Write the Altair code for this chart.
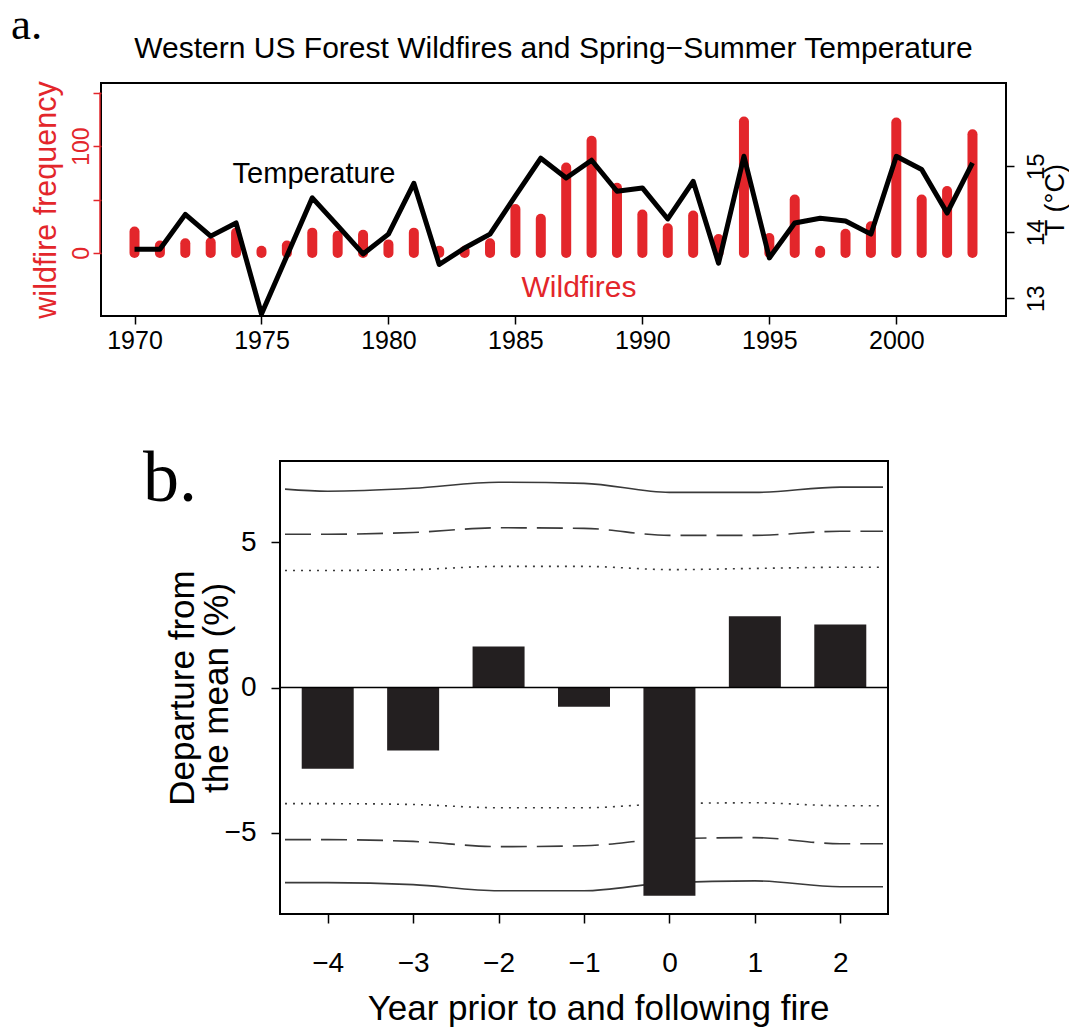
import altair as alt
import pandas as pd

# ---------------- panel a: western US forest wildfires and spring-summer temperature
years = [1970, 1971, 1972, 1973, 1974, 1975, 1976, 1977, 1978, 1979,
         1980, 1981, 1982, 1983, 1984, 1985, 1986, 1987, 1988, 1989,
         1990, 1991, 1992, 1993, 1994, 1995, 1996, 1997, 1998, 1999,
         2000, 2001, 2002, 2003]
fire_counts = [20, 7, 9, 10, 19, 2, 7, 19, 16, 17,
               8, 19, 2, 2, 9, 41, 32, 80, 105, 61,
               36, 23, 35, 13, 123, 14, 50, 2, 18, 25,
               122, 50, 58, 111]
temperature_c = [13.74, 13.74, 14.27, 13.94, 14.14, 12.76, 13.64, 14.52, 14.10, 13.67,
                 13.97, 14.74, 13.51, 13.76, 13.97, 14.55, 15.12, 14.82, 15.09, 14.62,
                 14.67, 14.20, 14.77, 13.53, 15.15, 13.61, 14.14, 14.21, 14.17, 13.97,
                 15.15, 14.95, 14.29, 15.05]
year_ticks = [1970, 1975, 1980, 1985, 1990, 1995, 2000]
fire_ticks = [0, 50, 100, 150]
temp_ticks = [13, 14, 15]

# ---------------- panel b: departure from the mean around fire years
lag_years = [-4, -3, -2, -1, 0, 1, 2]
departure_pct = [-2.80, -2.17, 1.41, -0.66, -7.17, 2.45, 2.17]

band_lags = [-4.5, -4, -3, -2, -1, 0, 1, 2, 2.5]
upper_99 = [6.83, 6.76, 6.86, 7.07, 7.03, 6.72, 6.72, 6.90, 6.90]
upper_95 = [5.28, 5.28, 5.34, 5.50, 5.48, 5.24, 5.24, 5.38, 5.38]
upper_90 = [4.03, 4.03, 4.06, 4.17, 4.17, 4.06, 4.10, 4.14, 4.14]
lower_90 = [-4.00, -4.00, -4.03, -4.14, -4.14, -4.00, -3.97, -4.07, -4.07]
lower_95 = [-5.24, -5.24, -5.30, -5.48, -5.45, -5.21, -5.17, -5.38, -5.38]
lower_99 = [-6.72, -6.72, -6.79, -7.00, -7.00, -6.72, -6.66, -6.86, -6.86]

RED = "#e3262b"
SANS = "Liberation Sans"
SERIF = "Liberation Serif"

fires_df = pd.DataFrame({"year": years, "fires": fire_counts, "temp": temperature_c})
one_row = pd.DataFrame({"k": [0]})


def band_frame(upper, lower):
    return pd.DataFrame({
        "lag": band_lags + band_lags,
        "value": upper + lower,
        "side": ["upper"] * len(band_lags) + ["lower"] * len(band_lags),
    })


def label(text, x, y, size, color="black", font=SANS, align="center"):
    return alt.Chart(one_row).mark_text(
        text=text, font=font, fontSize=size, color=color,
        align=align, baseline="alphabetic",
    ).encode(x=alt.value(x), y=alt.value(y))


# ---- panel a
x_year = alt.X(
    "year:Q",
    scale=alt.Scale(domain=[1968.68, 2004.32], nice=False, zero=False),
    axis=alt.Axis(values=year_ticks, format="d", title=None, tickSize=8,
                  tickWidth=1.5, tickColor="black", labelFontSize=25,
                  labelPadding=4, labelColor="black"),
)

bars = alt.Chart(fires_df).mark_rule(
    color=RED, strokeWidth=10, strokeCap="round"
).encode(
    x=x_year,
    y=alt.Y(
        "fires:Q",
        scale=alt.Scale(domain=[-59, 159], nice=False, zero=False),
        axis=alt.Axis(
            values=fire_ticks,
            labelExpr="datum.value == 0 || datum.value == 100 ? datum.label : ''",
            title="wildfire frequency", titleColor=RED, titleFontSize=30.5,
            titleAngle=270, titleX=-55, titleY=116.5, titleAlign="center",
            titleBaseline="middle",
            labelAngle=270, labelAlign="center", labelBaseline="bottom",
            labelColor=RED, labelFontSize=23, labelPadding=0,
            tickColor=RED, tickSize=8, tickWidth=1.5,
        ),
    ),
    y2=alt.datum(0),
)

# red axis line along the frequency range 0-150
fire_axis_line = alt.Chart(one_row).mark_rule(color=RED, strokeWidth=1.5).encode(
    x=alt.value(-1), y=alt.datum(0), y2=alt.datum(150)
)

temp_line = alt.Chart(fires_df).mark_line(
    color="black", strokeWidth=5, strokeJoin="round"
).encode(
    x=x_year,
    y=alt.Y(
        "temp:Q",
        scale=alt.Scale(domain=[12.73, 16.26], nice=False, zero=False),
        axis=alt.Axis(
            orient="right", values=temp_ticks, title="T (°C)",
            titleFontSize=27, titleAngle=270, titleX=49, titleY=116.5,
            titleAlign="center", titleBaseline="middle",
            labelAngle=270, labelAlign="center", labelBaseline="top",
            labelFontSize=24, labelPadding=10, labelColor="black",
            tickSize=8, tickWidth=1.5, tickColor="black",
        ),
    ),
)

# white hairline that pins the figure's top-left corner
corner = alt.Chart(one_row).mark_rule(color="white", strokeWidth=1).encode(
    x=alt.value(-99.5), x2=alt.value(-95), y=alt.value(-81.5), y2=alt.value(-81.5)
)

panel_a = alt.layer(
    alt.layer(bars, fire_axis_line),
    temp_line,
    label("Western US Forest Wildfires and Spring\u2212Summer Temperature", 452.5, -25, 30),
    label("Temperature", 213, 100, 29),
    label("Wildfires", 478, 214, 30, color=RED),
    label("a.", -90, -44, 45, font=SERIF, align="left"),
    corner,
).resolve_scale(y="independent").properties(width=905, height=233)

# ---- panel b
dep_df = pd.DataFrame({"lag": lag_years, "departure": departure_pct})

x_lag = alt.X(
    "lag:Q",
    scale=alt.Scale(domain=[-4.5, 2.5], nice=False, zero=False),
    axis=alt.Axis(values=lag_years, format="d", title="Year prior to and following fire",
                  titleFontSize=35, titleX=318, titleY=105, titleAlign="center",
                  titleBaseline="alphabetic", tickSize=9, tickWidth=1.5,
                  tickColor="black", labelFontSize=28, labelPadding=26),
)


def y_dep(field):
    return alt.Y(
        field,
        scale=alt.Scale(domain=[-7.8, 7.8], nice=False, zero=False),
        axis=alt.Axis(values=[-5, 0, 5], format="d",
                      title=["Departure from", "the mean (%)"], titleFontSize=35,
                      titleLineHeight=34, titleAngle=270, titleX=-98, titleY=226.5,
                      titleAlign="center", titleBaseline="middle",
                      tickSize=9, tickWidth=1.5, tickColor="black",
                      labelFontSize=28, labelPadding=15),
    )


band_99 = alt.Chart(band_frame(upper_99, lower_99)).mark_line(
    color="#3a3a3a", strokeWidth=1.6, interpolate="monotone"
).encode(x=x_lag, y=y_dep("value:Q"), detail="side:N")
band_95 = alt.Chart(band_frame(upper_95, lower_95)).mark_line(
    color="#3a3a3a", strokeWidth=1.6, strokeDash=[26, 10], interpolate="monotone"
).encode(x=x_lag, y=y_dep("value:Q"), detail="side:N")
band_90 = alt.Chart(band_frame(upper_90, lower_90)).mark_line(
    color="#3a3a3a", strokeWidth=1.6, strokeDash=[2, 6], interpolate="monotone"
).encode(x=x_lag, y=y_dep("value:Q"), detail="side:N")

zero_line = alt.Chart(one_row).mark_rule(color="black", strokeWidth=1.5).encode(
    y=alt.datum(0)
)

dep_bars = alt.Chart(dep_df).mark_bar(color="#231f20", size=52).encode(
    x=x_lag,
    y=y_dep("departure:Q"),
    y2=alt.datum(0),
)

panel_b = alt.layer(band_99, band_95, band_90, dep_bars, zero_line).properties(
    width=608, height=453
)

# left margin of the lower row, carrying the panel letter
panel_b_margin = alt.Chart(one_row).mark_text(
    text="b.", font=SERIF, fontSize=72, align="left", baseline="alphabetic"
).encode(x=alt.value(42), y=alt.value(40)).properties(
    width=179, height=453, view=alt.ViewBackground(strokeOpacity=0)
)

lower_row = alt.hconcat(panel_b_margin, panel_b, spacing=0, bounds="flush")

chart = alt.vconcat(panel_a, lower_row, spacing=145, bounds="flush").properties(
    padding=0, background="white"
).configure_view(
    stroke="black", strokeWidth=2
).configure_axis(
    labelFont=SANS, titleFont=SANS, titleFontWeight="normal",
    domain=False, grid=False, titleColor="black",
)

chart.save("out.html", embed_options={"renderer": "svg", "actions": False})
